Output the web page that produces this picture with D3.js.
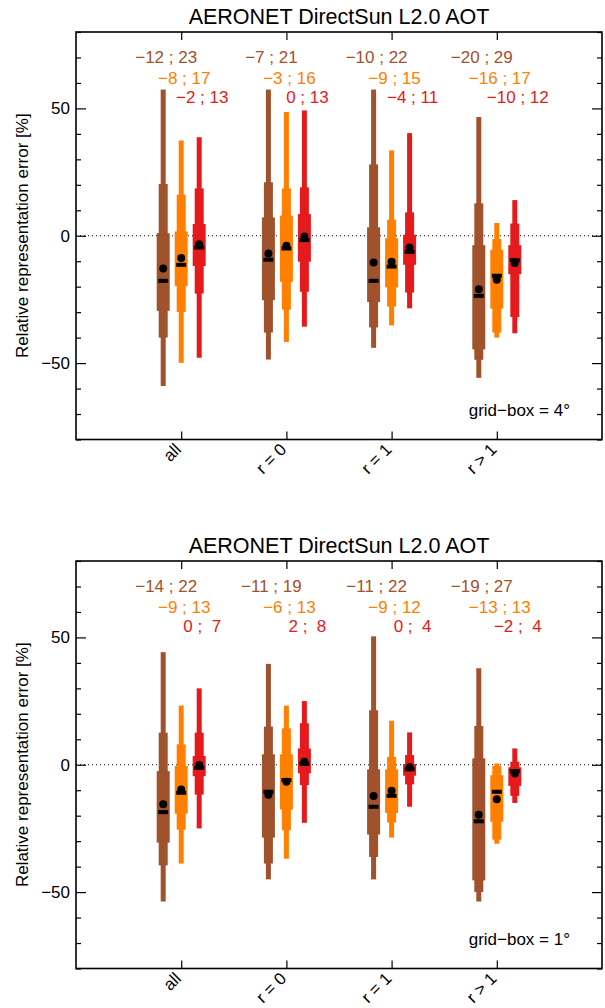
<!DOCTYPE html>
<html>
<head>
<meta charset="utf-8">
<script src="https://cdn.jsdelivr.net/npm/d3@7"></script>
<style>
body { margin: 0; background: #fff; }
text { font-family: "Liberation Sans", Arial, Helvetica, sans-serif; }
</style>
</head>
<body>
<svg id="chart" width="605" height="1008"></svg>
<script>

// Categories on the x axis
var groups = ["all", "r = 0", "r = 1", "r > 1"];

// Series colours (brown, orange, red)
var seriesColors = ["#a0522d", "#ff8000", "#e41a1c"];

// Box stats, one row per group:
// [whiskerLo, outerLo, innerLo, innerHi, outerHi, whiskerHi, median, mean]
var grid4Brown = [
    [-59, -40, -29.5, 1, 20.3, 57.4, -17.7, -12.9],
    [-48.6, -38, -25.3, 7.2, 21, 57.4, -9.4, -7],
    [-44, -36, -26, 3.3, 28, 57.4, -17.7, -10.5],
    [-55.8, -48.7, -44.6, -3.7, 12.7, 46.6, -23.6, -21]
];
var grid4Orange = [
    [-49.9, -29.9, -19.7, 1.7, 16.1, 37.4, -11.4, -8.7],
    [-41.7, -29, -18.1, 7.9, 18.6, 48.6, -5, -3.9],
    [-35.2, -27.8, -20.3, -1, 6.3, 33.5, -12.1, -10.2],
    [-40, -38, -28.6, -5.5, -1.3, 5, -15.7, -17.3]
];
var grid4Red = [
    [-47.9, -22.7, -11.9, 4.6, 18.6, 38.7, -4.6, -3.3],
    [-35.7, -22, -10.2, 8.5, 19, 49.2, -1.7, -0.3],
    [-28.5, -22.3, -11.4, 0.4, 9.2, 40.3, -6.3, -4.6],
    [-38.3, -31.9, -15.1, -3.7, 4.8, 14, -9.6, -10.7]
];
var grid4Labels = [
    ["\u221212 ; 23", "\u22127 ; 21", "\u221210 ; 22", "\u221220 ; 29"],
    ["\u22128 ; 17", "\u22123 ; 16", "\u22129 ; 15", "\u221216 ; 17"],
    ["\u22122 ; 13", "0 ; 13", "\u22124 ; 11", "\u221210 ; 12"]
];

var grid1Brown = [
    [-53.7, -39.5, -30.6, -2.5, 12.6, 44.2, -18.6, -15.5],
    [-45, -38.8, -28.6, 4.1, 15, 39.6, -10.6, -11.8],
    [-45, -36.2, -27.4, -1.8, 21.4, 50.4, -16.5, -12.3],
    [-53.7, -50, -45.4, 2.5, 15.2, 37.9, -22.2, -19.6]
];
var grid1Orange = [
    [-38.8, -25.5, -19.2, -0.5, 8, 23.2, -11, -9.7],
    [-36.9, -25.7, -17.6, 4.1, 14.3, 23.2, -6, -6.7],
    [-28.6, -22.7, -18.9, -1.8, 3.1, 17.3, -12.2, -10.2],
    [-31, -29.4, -22.4, -4.1, -0.5, 0.5, -10.6, -13.5]
];
var grid1Red = [
    [-25, -11.7, -4.5, 3.4, 12.6, 30, -1.2, -0.1],
    [-22.8, -8, -3.4, 6.4, 16.3, 25, 0.3, 1.2],
    [-16.5, -7.7, -4.3, 0.3, 3.8, 12.7, -1.8, -1],
    [-15, -12.2, -8.3, -1, 1.2, 6.4, -2.5, -3.4]
];
var grid1Labels = [
    ["\u221214 ; 22", "\u221211 ; 19", "\u221211 ; 22", "\u221219 ; 27"],
    ["\u22129 ; 13", "\u22126 ; 13", "\u22129 ; 12", "\u221213 ; 13"],
    ["0 ;  7", "2 ;  8", "0 ;  4", "\u22122 ;  4"]
];

var panels = [
    { top: 32, bottom: 439.5, note: "grid\u2212box = 4\u00b0",
      boxes: [grid4Brown, grid4Orange, grid4Red], labels: grid4Labels },
    { top: 561, bottom: 968.5, note: "grid\u2212box = 1\u00b0",
      boxes: [grid1Brown, grid1Orange, grid1Red], labels: grid1Labels }
];

var svg = d3.select("#chart");
var left = 76, right = 602;
var offsets = [-18, 0, 18];
var widths = { whisker: 5, outer: 9, inner: 13 };

panels.forEach(drawPanel);

function drawPanel(p) {

    var g = svg.append("g");

    var x = d3.scaleLinear().domain([0, 5]).range([left, right]);
    var y = d3.scaleLinear().domain([-80, 80]).range([p.bottom, p.top]);

    // zero line (dotted)
    g.append("line")
        .attr("x1", left).attr("x2", right)
        .attr("y1", y(0)).attr("y2", y(0))
        .attr("stroke", "#000").attr("stroke-width", 1)
        .attr("stroke-dasharray", "1,3");

    // boxes
    p.boxes.forEach(function(series, s) {
        var col = seriesColors[s];
        var sg = g.append("g");
        series.forEach(function(d, i) {
            var cx = x(i + 1) + offsets[s];
            var parts = [[d[0], d[5], widths.whisker], [d[1], d[4], widths.outer], [d[2], d[3], widths.inner]];
            parts.forEach(function(pp) {
                sg.append("rect")
                    .attr("x", cx - pp[2] / 2)
                    .attr("y", y(pp[1]))
                    .attr("width", pp[2])
                    .attr("height", y(pp[0]) - y(pp[1]))
                    .attr("fill", col);
            });
            // median bar
            sg.append("rect")
                .attr("x", cx - 5).attr("y", y(d[6]) - 2)
                .attr("width", 10).attr("height", 4)
                .attr("fill", "#000");
            // mean dot
            sg.append("circle")
                .attr("cx", cx).attr("cy", y(d[7]))
                .attr("r", 4).attr("fill", "#000");
        });
    });

    // value labels above
    var rowY = [30.5, 52, 71];
    p.labels.forEach(function(row, s) {
        row.forEach(function(t, i) {
            g.append("text")
                .attr("x", x(i + 1) + offsets[s] + 3)
                .attr("y", p.top + rowY[s])
                .attr("text-anchor", "middle")
                .style("white-space", "pre")
                .attr("font-size", 17)
                .attr("fill", seriesColors[s])
                .text(t);
        });
    });

    // axes
    var majorY = [-50, 0, 50];
    var minorY = d3.range(-80, 81, 10).filter(function(v) { return majorY.indexOf(v) < 0; });

    function styleAxis(a) {
        a.select(".domain").remove();
        a.selectAll("line").attr("stroke", "#000").attr("stroke-width", 1.2);
        a.selectAll("text").attr("font-size", 17).attr("fill", "#000")
            .style("font-family", "'Liberation Sans', Arial, Helvetica, sans-serif");
    }

    g.append("g").attr("transform", "translate(" + left + ",0)")
        .call(d3.axisLeft(y).tickValues(majorY).tickSizeInner(-10).tickSizeOuter(0).tickPadding(6))
        .call(styleAxis);
    g.append("g").attr("transform", "translate(" + left + ",0)")
        .call(d3.axisLeft(y).tickValues(minorY).tickSizeInner(-5).tickSizeOuter(0).tickFormat(""))
        .call(styleAxis);
    g.append("g").attr("transform", "translate(" + right + ",0)")
        .call(d3.axisRight(y).tickValues(majorY).tickSizeInner(-10).tickSizeOuter(0).tickFormat(""))
        .call(styleAxis);
    g.append("g").attr("transform", "translate(" + right + ",0)")
        .call(d3.axisRight(y).tickValues(minorY).tickSizeInner(-5).tickSizeOuter(0).tickFormat(""))
        .call(styleAxis);
    g.append("g").attr("transform", "translate(0," + p.bottom + ")")
        .call(d3.axisBottom(x).tickValues([1, 2, 3, 4]).tickSizeInner(-8).tickSizeOuter(0).tickFormat(""))
        .call(styleAxis);
    g.append("g").attr("transform", "translate(0," + p.top + ")")
        .call(d3.axisTop(x).tickValues([1, 2, 3, 4]).tickSizeInner(-8).tickSizeOuter(0).tickFormat(""))
        .call(styleAxis);

    // frame
    g.append("rect")
        .attr("x", left).attr("y", p.top)
        .attr("width", right - left).attr("height", p.bottom - p.top)
        .attr("fill", "none").attr("stroke", "#000").attr("stroke-width", 1.6);

    // rotated category labels
    groups.forEach(function(name, i) {
        g.append("text")
            .attr("transform", "translate(" + (x(i + 1) + 1) + "," + (p.bottom + 11) + ") rotate(-45)")
            .attr("text-anchor", "end")
            .attr("font-size", 17)
            .text(name);
    });

    // title
    g.append("text")
        .attr("x", (left + right) / 2).attr("y", p.top - 8)
        .attr("text-anchor", "middle").attr("font-size", 21.5)
        .text("AERONET DirectSun L2.0 AOT");

    // y label
    g.append("text")
        .attr("transform", "translate(28," + y(0) + ") rotate(-90)")
        .attr("text-anchor", "middle").attr("font-size", 17)
        .text("Relative representation error [%]");

    // grid-box note
    g.append("text")
        .attr("x", 570).attr("y", p.bottom - 24)
        .attr("text-anchor", "end").attr("font-size", 17)
        .text(p.note);
}

</script>
</body>
</html>
